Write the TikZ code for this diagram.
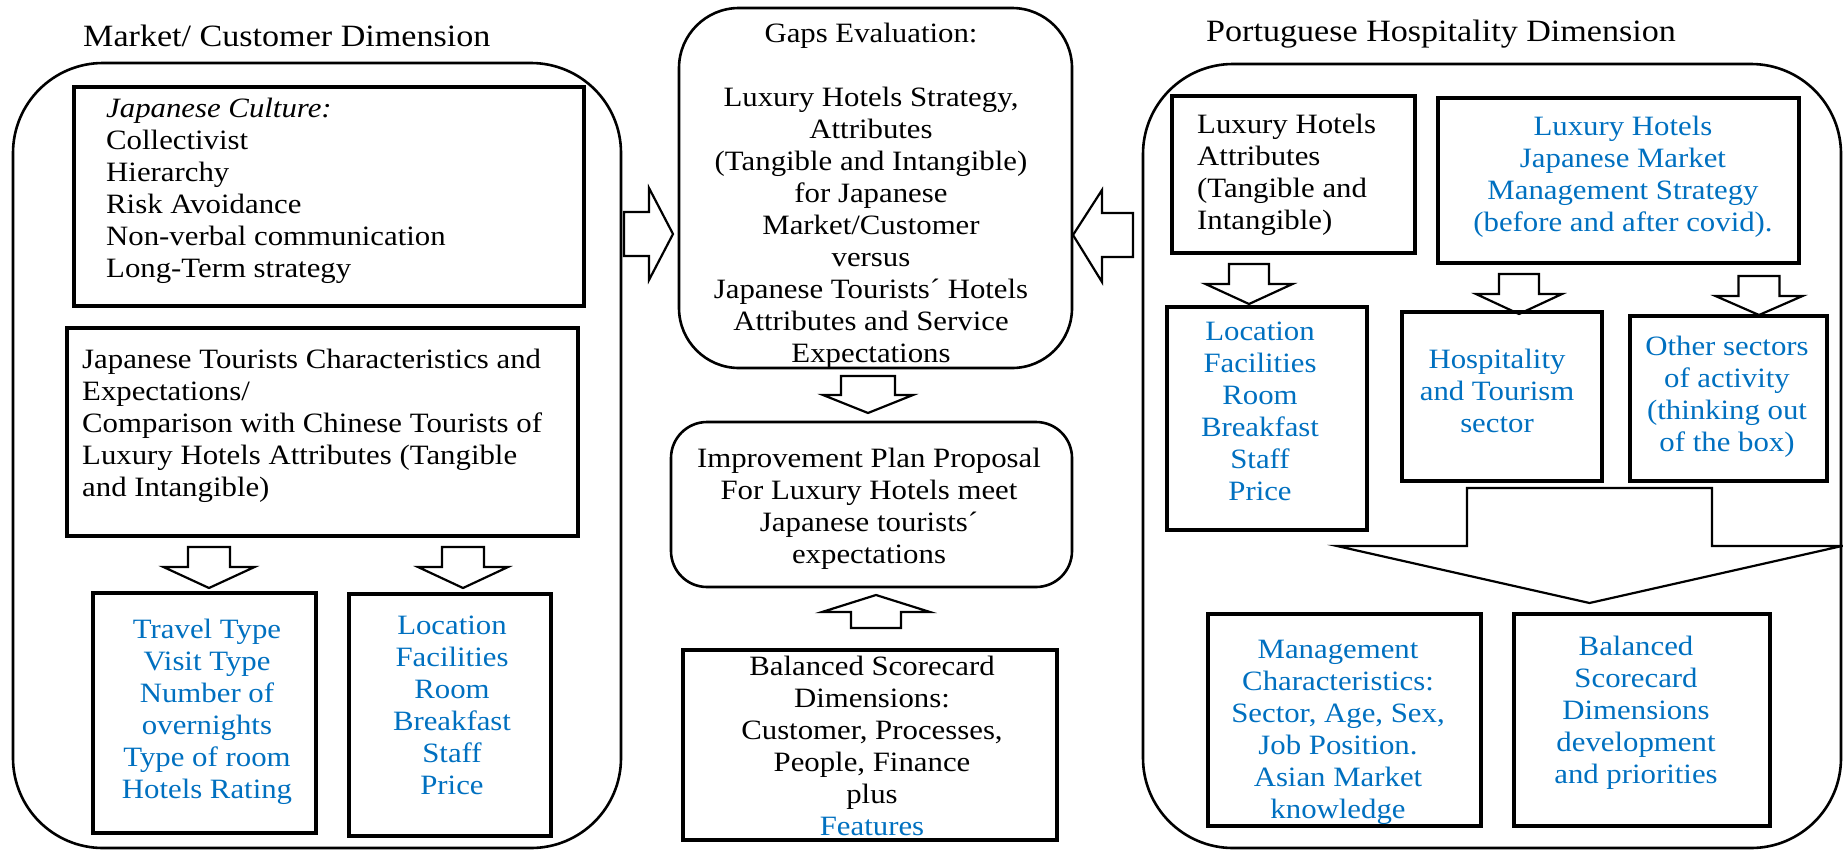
\documentclass[tikz,border=0pt]{standalone}
\usepackage{fontspec}
\setmainfont{Liberation Serif}[FakeStretch=1.1]
\definecolor{wordblue}{RGB}{0,112,192}
\newcommand\bodyfont{\fontsize{28}{32}\selectfont}
\newcommand\headfont{\fontsize{31}{35}\selectfont}
% distance from a text block's top edge to its first baseline
\newcommand\firstline{19.4}
% vertical block arrow: centre x, tail y, half shaft, head-base y, half head, tip y
\newcommand\blockdown[6]{%
  \draw[blockarrow] ({#1-#3},#2) -- ({#1+#3},#2) -- ({#1+#3},#4) -- ({#1+#5},#4)
    -- (#1,#6) -- ({#1-#5},#4) -- ({#1-#3},#4) -- cycle;}
\tikzset{
  panel/.style={draw, line width=2.6pt, rounded corners=90pt, inner sep=0pt},
  softbox/.style={draw, line width=2.6pt, inner sep=0pt},
  framed/.style={draw, line width=4.2pt, inner sep=0pt},
  blockarrow/.style={draw, line width=2.2pt, fill=white, line join=miter},
  txt/.style={inner sep=0pt, font=\bodyfont, execute at begin node=\strut},
  ctr/.style={txt, align=center, anchor=north},
  lft/.style={txt, align=left, anchor=north west},
  bluetext/.style={text=wordblue},
  head/.style={inner sep=0pt, font=\headfont, anchor=base west},
}
\begin{document}
\begin{tikzpicture}[x=1pt, y=-1pt]
\useasboundingbox (0,0) rectangle (1843,849);

% ---------- left panel: market / customer ----------
\node[head] (titleL) at (83,46) {Market/ Customer Dimension};
\node[panel, minimum width=608, minimum height=785] (outerL) at (317,455.5) {};
\node[framed, minimum width=510, minimum height=219] (cult) at (329,196.5) {};
\node[lft] (cultT) at (106,{117-\firstline}) {\textit{Japanese Culture:}\\Collectivist\\Hierarchy\\Risk Avoidance\\Non-verbal communication\\Long-Term strategy};
\node[framed, minimum width=511, minimum height=208] (tour) at (322.5,432) {};
\node[lft] (tourT) at (82,{368-\firstline}) {Japanese Tourists Characteristics and\\Expectations/\\Comparison with Chinese Tourists of\\Luxury Hotels Attributes (Tangible\\and Intangible)};
\blockdown{209}{547}{21}{567}{45.5}{588}
\blockdown{463}{547}{21}{567}{45}{588}
\node[framed, minimum width=223, minimum height=240] (travel) at (204.5,713) {};
\node[ctr, bluetext] (travelT) at (207,{638-\firstline}) {Travel Type\\Visit Type\\Number of\\overnights\\Type of room\\Hotels Rating};
\node[framed, minimum width=202, minimum height=242] (locL) at (450,715) {};
\node[ctr, bluetext] (locLT) at (452,{635-\firstline}) {Location\\Facilities\\Room\\Breakfast\\Staff\\Price};

% ---------- centre column ----------
\node[softbox, rounded corners=60pt, minimum width=393, minimum height=360] (gaps) at (875.5,188) {};
\node[ctr] (gapsT) at (871,{42-\firstline}) {Gaps Evaluation:\\~\\Luxury Hotels Strategy,\\Attributes\\(Tangible and Intangible)\\for Japanese\\Market/Customer\\versus\\Japanese Tourists´ Hotels\\Attributes and Service\\Expectations};
\draw[blockarrow] (624,212) -- (649,212) -- (649,188) -- (673,234) -- (649,280) -- (649,256) -- (624,256) -- cycle;
\draw[blockarrow] (1133,213) -- (1102,213) -- (1102,190) -- (1073,235) -- (1102,282) -- (1102,257) -- (1133,257) -- cycle;
\blockdown{868}{376}{27}{395}{45}{413}
\node[softbox, rounded corners=36pt, minimum width=401, minimum height=165] (impr) at (871.5,504.5) {};
\node[ctr] (imprT) at (869,{467-\firstline}) {Improvement Plan Proposal\\For Luxury Hotels meet\\Japanese tourists´\\expectations};
\blockdown{876}{628}{25}{612}{54}{595}
\node[framed, minimum width=374, minimum height=190] (bsc) at (870,745) {};
\node[ctr] (bscT) at (872,{675-\firstline}) {Balanced Scorecard\\Dimensions:\\Customer, Processes,\\People, Finance\\plus\\\textcolor{wordblue}{Features}};

% ---------- right panel: Portuguese hospitality ----------
\node[head] (titleR) at (1206,41) {Portuguese Hospitality Dimension};
\node[panel, minimum width=698, minimum height=784] (outerR) at (1492,456) {};
\node[framed, minimum width=243, minimum height=157] (lha) at (1293.5,174.5) {};
\node[lft] (lhaT) at (1197,{133-\firstline}) {Luxury Hotels\\Attributes\\(Tangible and\\Intangible)};
\node[framed, minimum width=361, minimum height=165] (lhjm) at (1618.5,180.5) {};
\node[ctr, bluetext] (lhjmT) at (1623,{135-\firstline}) {Luxury Hotels\\Japanese Market\\Management Strategy\\(before and after covid).};
\blockdown{1249}{264}{20}{284}{43.5}{304}
\blockdown{1519}{274}{20}{294}{43}{314}
\blockdown{1759}{276}{20.5}{296}{43.5}{315}
\node[framed, minimum width=200, minimum height=223] (locR) at (1267,418.5) {};
\node[ctr, bluetext] (locRT) at (1260,{341-\firstline}) {Location\\Facilities\\Room\\Breakfast\\Staff\\Price};
\node[framed, minimum width=200, minimum height=169] (hosp) at (1502,396.5) {};
\node[ctr, bluetext] (hospT) at (1497,{368-\firstline}) {Hospitality\\and Tourism\\sector};
\node[framed, minimum width=197, minimum height=165] (other) at (1728.5,398.5) {};
\node[ctr, bluetext] (otherT) at (1727,{355-\firstline}) {Other sectors\\of activity\\(thinking out\\of the box)};
\blockdown{1589.5}{488}{122.5}{546}{252.5}{603}
\node[framed, minimum width=273, minimum height=212] (mgmt) at (1344.5,720) {};
\node[ctr, bluetext] (mgmtT) at (1338,{659-\firstline}) {Management\\Characteristics:\\Sector, Age, Sex,\\Job Position.\\Asian Market\\knowledge};
\node[framed, minimum width=256, minimum height=212] (bscR) at (1642,720) {};
\node[ctr, bluetext] (bscRT) at (1636,{655-\firstline}) {Balanced\\Scorecard\\Dimensions\\development\\and priorities};
\end{tikzpicture}
\end{document}
